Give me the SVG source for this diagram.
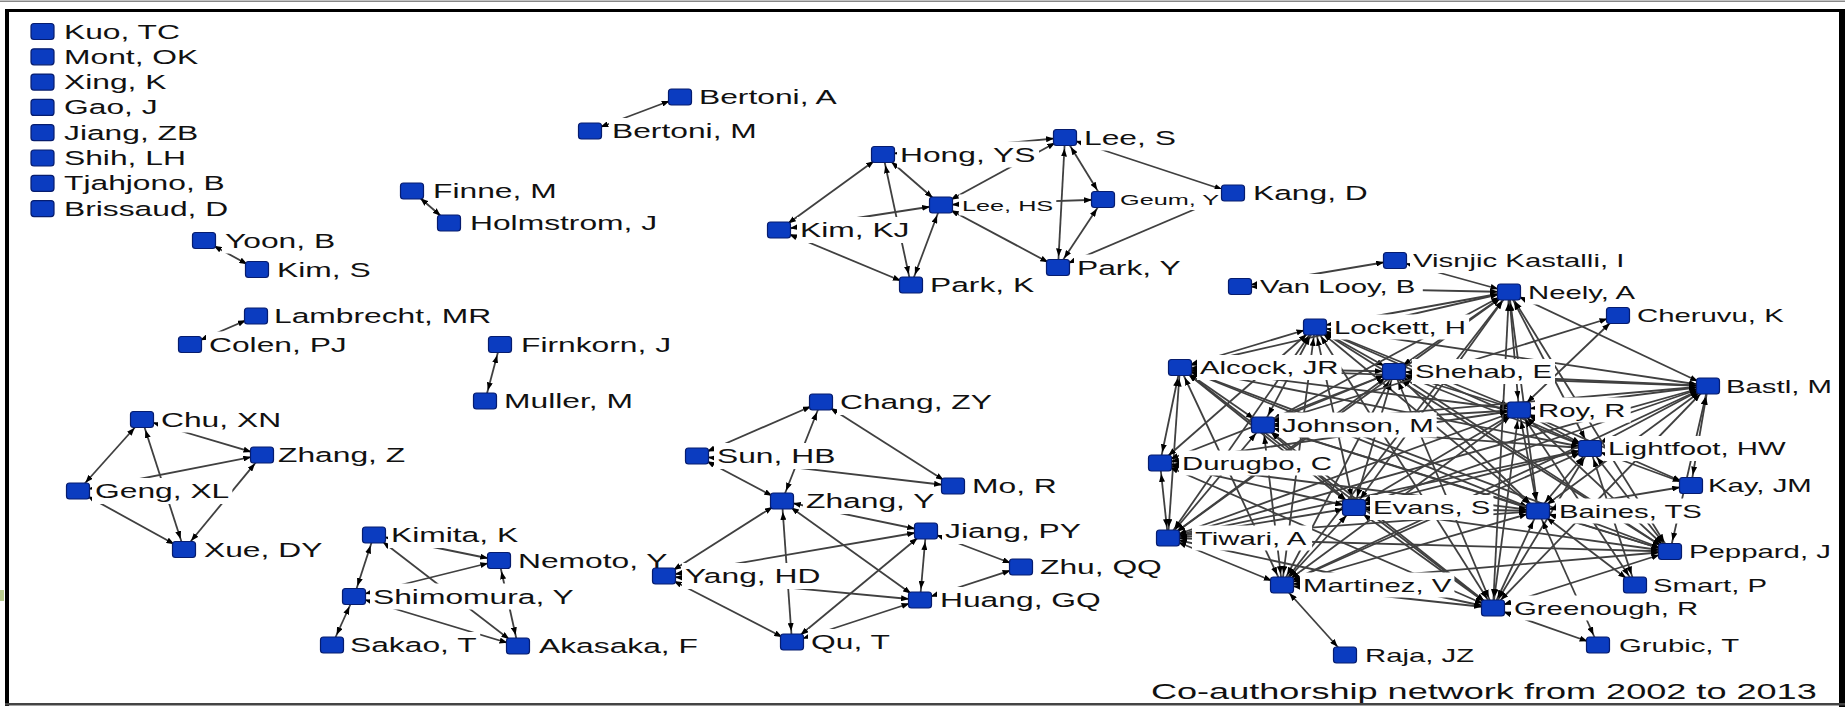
<svg xmlns="http://www.w3.org/2000/svg" width="1845" height="707" viewBox="0 0 1845 707">
<style>
.sq{fill:#0b3cc0;stroke:#061c6e;stroke-width:1.2}
.bx{fill:#fff}
.lb{font-family:"Liberation Sans",Arial,sans-serif;font-size:19.5px;fill:#111}
.s{font-size:18px}
.xs{font-size:15.5px}
.cap{font-family:"Liberation Sans",Arial,sans-serif;font-size:22px;fill:#111}
</style>
<defs>
<marker id="ah" viewBox="0 0 8 6" refX="19" refY="3" markerWidth="8" markerHeight="6" markerUnits="userSpaceOnUse" orient="auto-start-reverse"><path d="M0,0L8,3L0,6z" fill="#000"/></marker>
</defs>
<rect x="0" y="0" width="1845" height="707" fill="#fff"/>
<g id="connectors" stroke="#404040" stroke-width="1.8" fill="none" marker-start="url(#ah)" marker-end="url(#ah)">
<line x1="204" y1="240.5" x2="257" y2="269.5"/>
<line x1="412" y1="191" x2="449" y2="223"/>
<line x1="590" y1="131" x2="680" y2="97"/>
<line x1="190" y1="344.5" x2="256" y2="316"/>
<line x1="500" y1="344.5" x2="485" y2="401"/>
<line x1="78" y1="491" x2="142" y2="419.5"/>
<line x1="142" y1="419.5" x2="262" y2="455"/>
<line x1="78" y1="491" x2="262" y2="455"/>
<line x1="78" y1="491" x2="184" y2="549.5"/>
<line x1="184" y1="549.5" x2="262" y2="455"/>
<line x1="184" y1="549.5" x2="142" y2="419.5"/>
<line x1="374" y1="535" x2="354" y2="596.5"/>
<line x1="354" y1="596.5" x2="332" y2="645"/>
<line x1="374" y1="535" x2="499" y2="560.5"/>
<line x1="354" y1="596.5" x2="499" y2="560.5"/>
<line x1="374" y1="535" x2="518" y2="646"/>
<line x1="354" y1="596.5" x2="518" y2="646"/>
<line x1="499" y1="560.5" x2="518" y2="646"/>
<line x1="697" y1="456" x2="821" y2="402"/>
<line x1="782" y1="501" x2="821" y2="402"/>
<line x1="821" y1="402" x2="953" y2="486"/>
<line x1="697" y1="456" x2="953" y2="486"/>
<line x1="697" y1="456" x2="782" y2="501"/>
<line x1="782" y1="501" x2="926" y2="531"/>
<line x1="782" y1="501" x2="920" y2="600"/>
<line x1="664" y1="576" x2="782" y2="501"/>
<line x1="664" y1="576" x2="926" y2="531"/>
<line x1="792" y1="642" x2="782" y2="501"/>
<line x1="664" y1="576" x2="920" y2="600"/>
<line x1="664" y1="576" x2="792" y2="642"/>
<line x1="792" y1="642" x2="926" y2="531"/>
<line x1="792" y1="642" x2="920" y2="600"/>
<line x1="926" y1="531" x2="920" y2="600"/>
<line x1="926" y1="531" x2="1021" y2="567"/>
<line x1="920" y1="600" x2="1021" y2="567"/>
<line x1="779" y1="230" x2="883" y2="154.5"/>
<line x1="779" y1="230" x2="941" y2="205"/>
<line x1="779" y1="230" x2="911" y2="285"/>
<line x1="883" y1="154.5" x2="941" y2="205"/>
<line x1="883" y1="154.5" x2="911" y2="285"/>
<line x1="941" y1="205" x2="911" y2="285"/>
<line x1="941" y1="205" x2="1065" y2="137.5"/>
<line x1="883" y1="154.5" x2="1065" y2="137.5"/>
<line x1="941" y1="205" x2="1103" y2="199.5"/>
<line x1="941" y1="205" x2="1058" y2="267.5"/>
<line x1="1065" y1="137.5" x2="1058" y2="267.5"/>
<line x1="1065" y1="137.5" x2="1103" y2="199.5"/>
<line x1="1058" y1="267.5" x2="1103" y2="199.5"/>
<line x1="1065" y1="137.5" x2="1233" y2="193"/>
<line x1="1058" y1="267.5" x2="1233" y2="193"/>
<line x1="1180" y1="367.5" x2="1315" y2="327"/>
<line x1="1180" y1="367.5" x2="1394" y2="371.5"/>
<line x1="1180" y1="367.5" x2="1263" y2="425"/>
<line x1="1180" y1="367.5" x2="1519" y2="410"/>
<line x1="1180" y1="367.5" x2="1590" y2="448.5"/>
<line x1="1180" y1="367.5" x2="1708" y2="386"/>
<line x1="1180" y1="367.5" x2="1509" y2="292"/>
<line x1="1180" y1="367.5" x2="1354" y2="507.5"/>
<line x1="1180" y1="367.5" x2="1538" y2="511"/>
<line x1="1180" y1="367.5" x2="1168" y2="538"/>
<line x1="1180" y1="367.5" x2="1282" y2="585"/>
<line x1="1180" y1="367.5" x2="1493" y2="608"/>
<line x1="1180" y1="367.5" x2="1670" y2="551.5"/>
<line x1="1315" y1="327" x2="1394" y2="371.5"/>
<line x1="1315" y1="327" x2="1263" y2="425"/>
<line x1="1315" y1="327" x2="1519" y2="410"/>
<line x1="1315" y1="327" x2="1590" y2="448.5"/>
<line x1="1315" y1="327" x2="1708" y2="386"/>
<line x1="1315" y1="327" x2="1509" y2="292"/>
<line x1="1315" y1="327" x2="1354" y2="507.5"/>
<line x1="1315" y1="327" x2="1538" y2="511"/>
<line x1="1315" y1="327" x2="1168" y2="538"/>
<line x1="1315" y1="327" x2="1282" y2="585"/>
<line x1="1315" y1="327" x2="1493" y2="608"/>
<line x1="1315" y1="327" x2="1670" y2="551.5"/>
<line x1="1394" y1="371.5" x2="1263" y2="425"/>
<line x1="1394" y1="371.5" x2="1519" y2="410"/>
<line x1="1394" y1="371.5" x2="1590" y2="448.5"/>
<line x1="1394" y1="371.5" x2="1708" y2="386"/>
<line x1="1394" y1="371.5" x2="1509" y2="292"/>
<line x1="1394" y1="371.5" x2="1354" y2="507.5"/>
<line x1="1394" y1="371.5" x2="1538" y2="511"/>
<line x1="1394" y1="371.5" x2="1168" y2="538"/>
<line x1="1394" y1="371.5" x2="1282" y2="585"/>
<line x1="1394" y1="371.5" x2="1493" y2="608"/>
<line x1="1394" y1="371.5" x2="1670" y2="551.5"/>
<line x1="1263" y1="425" x2="1519" y2="410"/>
<line x1="1263" y1="425" x2="1590" y2="448.5"/>
<line x1="1263" y1="425" x2="1708" y2="386"/>
<line x1="1263" y1="425" x2="1509" y2="292"/>
<line x1="1263" y1="425" x2="1354" y2="507.5"/>
<line x1="1263" y1="425" x2="1538" y2="511"/>
<line x1="1263" y1="425" x2="1168" y2="538"/>
<line x1="1263" y1="425" x2="1282" y2="585"/>
<line x1="1263" y1="425" x2="1493" y2="608"/>
<line x1="1263" y1="425" x2="1670" y2="551.5"/>
<line x1="1519" y1="410" x2="1590" y2="448.5"/>
<line x1="1519" y1="410" x2="1708" y2="386"/>
<line x1="1519" y1="410" x2="1509" y2="292"/>
<line x1="1519" y1="410" x2="1354" y2="507.5"/>
<line x1="1519" y1="410" x2="1538" y2="511"/>
<line x1="1519" y1="410" x2="1168" y2="538"/>
<line x1="1519" y1="410" x2="1282" y2="585"/>
<line x1="1519" y1="410" x2="1493" y2="608"/>
<line x1="1519" y1="410" x2="1670" y2="551.5"/>
<line x1="1590" y1="448.5" x2="1708" y2="386"/>
<line x1="1590" y1="448.5" x2="1509" y2="292"/>
<line x1="1590" y1="448.5" x2="1354" y2="507.5"/>
<line x1="1590" y1="448.5" x2="1538" y2="511"/>
<line x1="1590" y1="448.5" x2="1168" y2="538"/>
<line x1="1590" y1="448.5" x2="1282" y2="585"/>
<line x1="1590" y1="448.5" x2="1493" y2="608"/>
<line x1="1590" y1="448.5" x2="1670" y2="551.5"/>
<line x1="1708" y1="386" x2="1509" y2="292"/>
<line x1="1708" y1="386" x2="1354" y2="507.5"/>
<line x1="1708" y1="386" x2="1538" y2="511"/>
<line x1="1708" y1="386" x2="1168" y2="538"/>
<line x1="1708" y1="386" x2="1282" y2="585"/>
<line x1="1708" y1="386" x2="1493" y2="608"/>
<line x1="1708" y1="386" x2="1670" y2="551.5"/>
<line x1="1509" y1="292" x2="1354" y2="507.5"/>
<line x1="1509" y1="292" x2="1538" y2="511"/>
<line x1="1509" y1="292" x2="1168" y2="538"/>
<line x1="1509" y1="292" x2="1282" y2="585"/>
<line x1="1509" y1="292" x2="1493" y2="608"/>
<line x1="1509" y1="292" x2="1670" y2="551.5"/>
<line x1="1354" y1="507.5" x2="1538" y2="511"/>
<line x1="1354" y1="507.5" x2="1168" y2="538"/>
<line x1="1354" y1="507.5" x2="1282" y2="585"/>
<line x1="1354" y1="507.5" x2="1493" y2="608"/>
<line x1="1354" y1="507.5" x2="1670" y2="551.5"/>
<line x1="1538" y1="511" x2="1168" y2="538"/>
<line x1="1538" y1="511" x2="1282" y2="585"/>
<line x1="1538" y1="511" x2="1493" y2="608"/>
<line x1="1538" y1="511" x2="1670" y2="551.5"/>
<line x1="1168" y1="538" x2="1282" y2="585"/>
<line x1="1168" y1="538" x2="1493" y2="608"/>
<line x1="1168" y1="538" x2="1670" y2="551.5"/>
<line x1="1282" y1="585" x2="1493" y2="608"/>
<line x1="1282" y1="585" x2="1670" y2="551.5"/>
<line x1="1493" y1="608" x2="1670" y2="551.5"/>
<line x1="1160" y1="463" x2="1180" y2="367.5"/>
<line x1="1160" y1="463" x2="1168" y2="538"/>
<line x1="1160" y1="463" x2="1394" y2="371.5"/>
<line x1="1160" y1="463" x2="1354" y2="507.5"/>
<line x1="1160" y1="463" x2="1538" y2="511"/>
<line x1="1160" y1="463" x2="1493" y2="608"/>
<line x1="1160" y1="463" x2="1519" y2="410"/>
<line x1="1160" y1="463" x2="1315" y2="327"/>
<line x1="1240" y1="286.5" x2="1395" y2="260.5"/>
<line x1="1240" y1="286.5" x2="1509" y2="292"/>
<line x1="1395" y1="260.5" x2="1509" y2="292"/>
<line x1="1618" y1="315.5" x2="1519" y2="410"/>
<line x1="1618" y1="315.5" x2="1263" y2="425"/>
<line x1="1691" y1="485.5" x2="1590" y2="448.5"/>
<line x1="1691" y1="485.5" x2="1708" y2="386"/>
<line x1="1691" y1="485.5" x2="1519" y2="410"/>
<line x1="1691" y1="485.5" x2="1538" y2="511"/>
<line x1="1635" y1="585" x2="1538" y2="511"/>
<line x1="1635" y1="585" x2="1519" y2="410"/>
<line x1="1635" y1="585" x2="1590" y2="448.5"/>
<line x1="1598" y1="645" x2="1493" y2="608"/>
<line x1="1598" y1="645" x2="1538" y2="511"/>
<line x1="1345" y1="655" x2="1282" y2="585"/>
</g>
<g id="n-kuo"><rect class="sq" x="31" y="23.5" width="23" height="16" rx="3"/><text class="lb" transform="translate(64 38.5) scale(1.63 1)">Kuo, TC</text></g>
<g id="n-mont"><rect class="sq" x="31" y="48.8" width="23" height="16" rx="3"/><text class="lb" transform="translate(64 63.8) scale(1.63 1)">Mont, OK</text></g>
<g id="n-xing"><rect class="sq" x="31" y="74.1" width="23" height="16" rx="3"/><text class="lb" transform="translate(64 89.1) scale(1.63 1)">Xing, K</text></g>
<g id="n-gao"><rect class="sq" x="31" y="99.4" width="23" height="16" rx="3"/><text class="lb" transform="translate(64 114.4) scale(1.63 1)">Gao, J</text></g>
<g id="n-jiangzb"><rect class="sq" x="31" y="124.7" width="23" height="16" rx="3"/><text class="lb" transform="translate(64 139.7) scale(1.63 1)">Jiang, ZB</text></g>
<g id="n-shih"><rect class="sq" x="31" y="150" width="23" height="16" rx="3"/><text class="lb" transform="translate(64 165) scale(1.63 1)">Shih, LH</text></g>
<g id="n-tjahjono"><rect class="sq" x="31" y="175.3" width="23" height="16" rx="3"/><text class="lb" transform="translate(64 190.3) scale(1.63 1)">Tjahjono, B</text></g>
<g id="n-brissaud"><rect class="sq" x="31" y="200.6" width="23" height="16" rx="3"/><text class="lb" transform="translate(64 215.6) scale(1.63 1)">Brissaud, D</text></g>
<g id="n-yoon"><rect class="sq" x="192.5" y="232.5" width="23" height="16" rx="3"/><rect class="bx" x="222" y="227.5" width="119.1" height="26"/><text class="lb" transform="translate(225 247.5) scale(1.63 1)">Yoon, B</text></g>
<g id="n-kims"><rect class="sq" x="245.5" y="261.5" width="23" height="16" rx="3"/><rect class="bx" x="274" y="256.5" width="99.6" height="26"/><text class="lb" transform="translate(277 276.5) scale(1.63 1)">Kim, S</text></g>
<g id="n-finne"><rect class="sq" x="400.5" y="183" width="23" height="16" rx="3"/><rect class="bx" x="430" y="178" width="129.6" height="26"/><text class="lb" transform="translate(433 198) scale(1.63 1)">Finne, M</text></g>
<g id="n-holmstrom"><rect class="sq" x="437.5" y="215" width="23" height="16" rx="3"/><rect class="bx" x="467" y="210" width="193.2" height="26"/><text class="lb" transform="translate(470 230) scale(1.63 1)">Holmstrom, J</text></g>
<g id="n-bertonia"><rect class="sq" x="668.5" y="89" width="23" height="16" rx="3"/><rect class="bx" x="696" y="84" width="145.6" height="26"/><text class="lb" transform="translate(699 104) scale(1.63 1)">Bertoni, A</text></g>
<g id="n-bertonim"><rect class="sq" x="578.5" y="123" width="23" height="16" rx="3"/><rect class="bx" x="609" y="118" width="150.8" height="26"/><text class="lb" transform="translate(612 138) scale(1.63 1)">Bertoni, M</text></g>
<g id="n-lambrecht"><rect class="sq" x="244.5" y="308" width="23" height="16" rx="3"/><rect class="bx" x="271" y="303" width="223.3" height="26"/><text class="lb" transform="translate(274 323) scale(1.63 1)">Lambrecht, MR</text></g>
<g id="n-colen"><rect class="sq" x="178.5" y="336.5" width="23" height="16" rx="3"/><rect class="bx" x="206" y="331.5" width="143.8" height="26"/><text class="lb" transform="translate(209 351.5) scale(1.63 1)">Colen, PJ</text></g>
<g id="n-firnkorn"><rect class="sq" x="488.5" y="336.5" width="23" height="16" rx="3"/><rect class="bx" x="518" y="331.5" width="156.1" height="26"/><text class="lb" transform="translate(521 351.5) scale(1.63 1)">Firnkorn, J</text></g>
<g id="n-muller"><rect class="sq" x="473.5" y="393" width="23" height="16" rx="3"/><rect class="bx" x="501" y="388" width="136.7" height="26"/><text class="lb" transform="translate(504 408) scale(1.63 1)">Muller, M</text></g>
<g id="n-chu"><rect class="sq" x="130.5" y="411.5" width="23" height="16" rx="3"/><rect class="bx" x="158" y="406.5" width="126.1" height="26"/><text class="lb" transform="translate(161 426.5) scale(1.63 1)">Chu, XN</text></g>
<g id="n-zhangz"><rect class="sq" x="250.5" y="447" width="23" height="16" rx="3"/><rect class="bx" x="275" y="442" width="133.2" height="26"/><text class="lb" transform="translate(278 462) scale(1.63 1)">Zhang, Z</text></g>
<g id="n-geng"><rect class="sq" x="66.5" y="483" width="23" height="16" rx="3"/><rect class="bx" x="92" y="478" width="140.3" height="26"/><text class="lb" transform="translate(95 498) scale(1.63 1)">Geng, XL</text></g>
<g id="n-xue"><rect class="sq" x="172.5" y="541.5" width="23" height="16" rx="3"/><rect class="bx" x="201" y="536.5" width="124.4" height="26"/><text class="lb" transform="translate(204 556.5) scale(1.63 1)">Xue, DY</text></g>
<g id="n-kimita"><rect class="sq" x="362.5" y="527" width="23" height="16" rx="3"/><rect class="bx" x="388" y="522" width="133.2" height="26"/><text class="lb" transform="translate(391 542) scale(1.63 1)">Kimita, K</text></g>
<g id="n-nemoto"><rect class="sq" x="487.5" y="552.5" width="23" height="16" rx="3"/><rect class="bx" x="515" y="547.5" width="156.2" height="26"/><text class="lb" transform="translate(518 567.5) scale(1.63 1)">Nemoto, Y</text></g>
<g id="n-shimomura"><rect class="sq" x="342.5" y="588.5" width="23" height="16" rx="3"/><rect class="bx" x="370" y="583.5" width="207.4" height="26"/><text class="lb" transform="translate(373 603.5) scale(1.63 1)">Shimomura, Y</text></g>
<g id="n-sakao"><rect class="sq" x="320.5" y="637" width="23" height="16" rx="3"/><rect class="bx" x="347" y="632" width="133.2" height="26"/><text class="lb" transform="translate(350 652) scale(1.63 1)">Sakao, T</text></g>
<g id="n-akasaka"><rect class="sq" x="506.5" y="638" width="23" height="16" rx="3"/><rect class="bx" x="536" y="633" width="165" height="26"/><text class="lb" transform="translate(539 653) scale(1.63 1)">Akasaka, F</text></g>
<g id="n-chang"><rect class="sq" x="809.5" y="394" width="23" height="16" rx="3"/><rect class="bx" x="837" y="389" width="157.9" height="26"/><text class="lb" transform="translate(840 409) scale(1.63 1)">Chang, ZY</text></g>
<g id="n-sun"><rect class="sq" x="685.5" y="448" width="23" height="16" rx="3"/><rect class="bx" x="714" y="443" width="124.4" height="26"/><text class="lb" transform="translate(717 463) scale(1.63 1)">Sun, HB</text></g>
<g id="n-mo"><rect class="sq" x="941.5" y="478" width="23" height="16" rx="3"/><rect class="bx" x="969" y="473" width="90.8" height="26"/><text class="lb" transform="translate(972 493) scale(1.63 1)">Mo, R</text></g>
<g id="n-zhangy"><rect class="sq" x="770.5" y="493" width="23" height="16" rx="3"/><rect class="bx" x="803" y="488" width="135" height="26"/><text class="lb" transform="translate(806 508) scale(1.63 1)">Zhang, Y</text></g>
<g id="n-jiangpy"><rect class="sq" x="914.5" y="523" width="23" height="16" rx="3"/><rect class="bx" x="942" y="518" width="142" height="26"/><text class="lb" transform="translate(945 538) scale(1.63 1)">Jiang, PY</text></g>
<g id="n-zhu"><rect class="sq" x="1009.5" y="559" width="23" height="16" rx="3"/><rect class="bx" x="1037" y="554" width="127.9" height="26"/><text class="lb" transform="translate(1040 574) scale(1.63 1)">Zhu, QQ</text></g>
<g id="n-yang"><rect class="sq" x="652.5" y="568" width="23" height="16" rx="3"/><rect class="bx" x="682" y="563" width="143.8" height="26"/><text class="lb" transform="translate(685 583) scale(1.63 1)">Yang, HD</text></g>
<g id="n-huang"><rect class="sq" x="908.5" y="592" width="23" height="16" rx="3"/><rect class="bx" x="937" y="587" width="166.8" height="26"/><text class="lb" transform="translate(940 607) scale(1.63 1)">Huang, GQ</text></g>
<g id="n-qu"><rect class="sq" x="780.5" y="634" width="23" height="16" rx="3"/><rect class="bx" x="808" y="629" width="85.5" height="26"/><text class="lb" transform="translate(811 649) scale(1.63 1)">Qu, T</text></g>
<g id="n-hong"><rect class="sq" x="871.5" y="146.5" width="23" height="16" rx="3"/><rect class="bx" x="897" y="141.5" width="142" height="26"/><text class="lb" transform="translate(900 161.5) scale(1.63 1)">Hong, YS</text></g>
<g id="n-lees"><rect class="sq" x="1053.5" y="129.5" width="23" height="16" rx="3"/><rect class="bx" x="1081" y="124.5" width="97.9" height="26"/><text class="lb" transform="translate(1084 144.5) scale(1.63 1)">Lee, S</text></g>
<g id="n-leehs"><rect class="sq" x="929.5" y="197" width="23" height="16" rx="3"/><rect class="bx" x="959" y="194.5" width="97.3" height="21"/><text class="lb xs" transform="translate(962 210.5) scale(1.63 1)">Lee, HS</text></g>
<g id="n-geum"><rect class="sq" x="1091.5" y="191.5" width="23" height="16" rx="3"/><rect class="bx" x="1117" y="189" width="105.7" height="21"/><text class="lb xs" transform="translate(1120 205) scale(1.63 1)">Geum, Y</text></g>
<g id="n-kang"><rect class="sq" x="1221.5" y="185" width="23" height="16" rx="3"/><rect class="bx" x="1250" y="180" width="120.8" height="26"/><text class="lb" transform="translate(1253 200) scale(1.63 1)">Kang, D</text></g>
<g id="n-kimkj"><rect class="sq" x="767.5" y="222" width="23" height="16" rx="3"/><rect class="bx" x="797" y="217" width="115.5" height="26"/><text class="lb" transform="translate(800 237) scale(1.63 1)">Kim, KJ</text></g>
<g id="n-parkk"><rect class="sq" x="899.5" y="277" width="23" height="16" rx="3"/><rect class="bx" x="927" y="272" width="110.2" height="26"/><text class="lb" transform="translate(930 292) scale(1.63 1)">Park, K</text></g>
<g id="n-parky"><rect class="sq" x="1046.5" y="259.5" width="23" height="16" rx="3"/><rect class="bx" x="1074" y="254.5" width="110.2" height="26"/><text class="lb" transform="translate(1077 274.5) scale(1.63 1)">Park, Y</text></g>
<g id="n-vanlooy"><rect class="sq" x="1228.5" y="278.5" width="23" height="16" rx="3"/><rect class="bx" x="1257" y="274" width="165.8" height="25"/><text class="lb s" transform="translate(1260 293) scale(1.63 1)">Van Looy, B</text></g>
<g id="n-visnjic"><rect class="sq" x="1383.5" y="252.5" width="23" height="16" rx="3"/><rect class="bx" x="1410" y="248" width="218" height="25"/><text class="lb s" transform="translate(1413 267) scale(1.63 1)">Visnjic Kastalli, I</text></g>
<g id="n-neely"><rect class="sq" x="1497.5" y="284" width="23" height="16" rx="3"/><rect class="bx" x="1525" y="279.5" width="116.9" height="25"/><text class="lb s" transform="translate(1528 298.5) scale(1.63 1)">Neely, A</text></g>
<g id="n-cheruvu"><rect class="sq" x="1606.5" y="307.5" width="23" height="16" rx="3"/><rect class="bx" x="1634" y="303" width="152.8" height="25"/><text class="lb s" transform="translate(1637 322) scale(1.63 1)">Cheruvu, K</text></g>
<g id="n-lockett"><rect class="sq" x="1303.5" y="319" width="23" height="16" rx="3"/><rect class="bx" x="1331" y="314.5" width="138.1" height="25"/><text class="lb s" transform="translate(1334 333.5) scale(1.63 1)">Lockett, H</text></g>
<g id="n-alcock"><rect class="sq" x="1168.5" y="359.5" width="23" height="16" rx="3"/><rect class="bx" x="1197" y="355" width="144.6" height="25"/><text class="lb s" transform="translate(1200 374) scale(1.63 1)">Alcock, JR</text></g>
<g id="n-shehab"><rect class="sq" x="1382.5" y="363.5" width="23" height="16" rx="3"/><rect class="bx" x="1412" y="359" width="143" height="25"/><text class="lb s" transform="translate(1415 378) scale(1.63 1)">Shehab, E</text></g>
<g id="n-johnson"><rect class="sq" x="1251.5" y="417" width="23" height="16" rx="3"/><rect class="bx" x="1279" y="412.5" width="157.7" height="25"/><text class="lb s" transform="translate(1282 431.5) scale(1.63 1)">Johnson, M</text></g>
<g id="n-durugbo"><rect class="sq" x="1148.5" y="455" width="23" height="16" rx="3"/><rect class="bx" x="1179" y="450.5" width="156" height="25"/><text class="lb s" transform="translate(1182 469.5) scale(1.63 1)">Durugbo, C</text></g>
<g id="n-evans"><rect class="sq" x="1342.5" y="499.5" width="23" height="16" rx="3"/><rect class="bx" x="1370" y="495" width="123.4" height="25"/><text class="lb s" transform="translate(1373 514) scale(1.63 1)">Evans, S</text></g>
<g id="n-tiwari"><rect class="sq" x="1156.5" y="530" width="23" height="16" rx="3"/><rect class="bx" x="1192" y="525.5" width="120.1" height="25"/><text class="lb s" transform="translate(1195 544.5) scale(1.63 1)">Tiwari, A</text></g>
<g id="n-bastl"><rect class="sq" x="1696.5" y="378" width="23" height="16" rx="3"/><rect class="bx" x="1723" y="373.5" width="112" height="25"/><text class="lb s" transform="translate(1726 392.5) scale(1.63 1)">Bastl, M</text></g>
<g id="n-roy"><rect class="sq" x="1507.5" y="402" width="23" height="16" rx="3"/><rect class="bx" x="1535" y="397.5" width="95.7" height="25"/><text class="lb s" transform="translate(1538 416.5) scale(1.63 1)">Roy, R</text></g>
<g id="n-lightfoot"><rect class="sq" x="1578.5" y="440.5" width="23" height="16" rx="3"/><rect class="bx" x="1605" y="436" width="183.7" height="25"/><text class="lb s" transform="translate(1608 455) scale(1.63 1)">Lightfoot, HW</text></g>
<g id="n-kay"><rect class="sq" x="1679.5" y="477.5" width="23" height="16" rx="3"/><rect class="bx" x="1705" y="473" width="112" height="25"/><text class="lb s" transform="translate(1708 492) scale(1.63 1)">Kay, JM</text></g>
<g id="n-baines"><rect class="sq" x="1526.5" y="503" width="23" height="16" rx="3"/><rect class="bx" x="1556" y="498.5" width="149.5" height="25"/><text class="lb s" transform="translate(1559 517.5) scale(1.63 1)">Baines, TS</text></g>
<g id="n-peppard"><rect class="sq" x="1658.5" y="543.5" width="23" height="16" rx="3"/><rect class="bx" x="1686" y="539" width="147.9" height="25"/><text class="lb s" transform="translate(1689 558) scale(1.63 1)">Peppard, J</text></g>
<g id="n-smart"><rect class="sq" x="1623.5" y="577" width="23" height="16" rx="3"/><rect class="bx" x="1650" y="572.5" width="120.1" height="25"/><text class="lb s" transform="translate(1653 591.5) scale(1.63 1)">Smart, P</text></g>
<g id="n-martinez"><rect class="sq" x="1270.5" y="577" width="23" height="16" rx="3"/><rect class="bx" x="1300" y="572.5" width="154.4" height="25"/><text class="lb s" transform="translate(1303 591.5) scale(1.63 1)">Martinez, V</text></g>
<g id="n-greenough"><rect class="sq" x="1481.5" y="600" width="23" height="16" rx="3"/><rect class="bx" x="1511" y="595.5" width="190.3" height="25"/><text class="lb s" transform="translate(1514 614.5) scale(1.63 1)">Greenough, R</text></g>
<g id="n-grubic"><rect class="sq" x="1586.5" y="637" width="23" height="16" rx="3"/><rect class="bx" x="1616" y="632.5" width="126.6" height="25"/><text class="lb s" transform="translate(1619 651.5) scale(1.63 1)">Grubic, T</text></g>
<g id="n-raja"><rect class="sq" x="1333.5" y="647" width="23" height="16" rx="3"/><rect class="bx" x="1362" y="642.5" width="115.2" height="25"/><text class="lb s" transform="translate(1365 661.5) scale(1.63 1)">Raja, JZ</text></g>
<text class="cap" transform="translate(1151 699) scale(1.64 1)">Co-authorship network from 2002 to 2013</text>
<g id="frame">
<rect x="0" y="0.5" width="1845" height="1.5" fill="#888"/>
<rect x="5" y="9" width="1840" height="3" fill="#000"/>
<rect x="5" y="9" width="4" height="697" fill="#000"/>
<rect x="1839" y="9" width="6" height="698" fill="#000"/>
<rect x="5" y="703" width="1840" height="2.5" fill="#444"/>
<rect x="0" y="590" width="4" height="11" fill="#b9cc8e"/>
</g>
</svg>
